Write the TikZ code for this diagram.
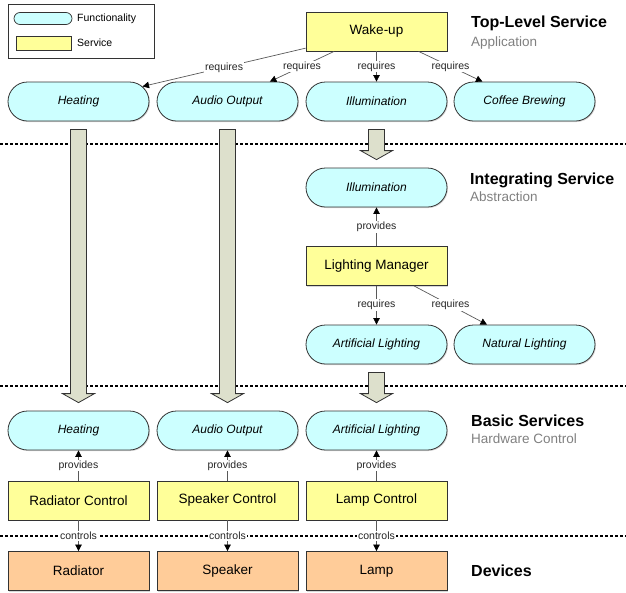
\documentclass[tikz,border=0pt]{standalone}
\usepackage{fontspec}
\setmainfont{Liberation Sans}
\usetikzlibrary{arrows.meta,shapes.misc,shadows,calc}

\definecolor{funcfill}{HTML}{CCFFFF}
\definecolor{servfill}{HTML}{FFFF99}
\definecolor{devfill}{HTML}{FFCC99}
\definecolor{flowfill}{RGB}{221,224,204}
\definecolor{edge}{HTML}{333333}

\tikzset{
  base/.style={draw=edge, line width=0.8pt, minimum width=141pt, minimum height=39pt,
    inner sep=0pt, drop shadow={shadow xshift=1pt, shadow yshift=-1pt, fill=black!30}},
  func/.style={base, rounded rectangle, fill=funcfill, font=\fontsize{12}{14}\selectfont\itshape},
  serv/.style={base, rectangle, fill=servfill, font=\fontsize{13.5}{16}\selectfont},
  dev/.style={base, rectangle, fill=devfill, font=\fontsize{13.5}{16}\selectfont},
  rel/.style={draw=black!65, line width=0.7pt, -{Triangle[length=6.5pt,width=6.5pt,color=black]}},
  rellabel/.style={fill=white, inner sep=1pt, text=black!85, font=\fontsize{10.5}{12}\selectfont},
  layer/.style={draw=black, line width=1.2pt, dash pattern=on 3pt off 2pt},
  bigarrow/.style={draw=edge, line width=0.8pt, fill=flowfill},
  title/.style={anchor=base west, font=\fontsize{16}{19}\selectfont\bfseries, inner sep=0pt},
  subtitle/.style={anchor=base west, font=\fontsize{13.5}{16}\selectfont, text=black!50, inner sep=0pt},
  legtext/.style={anchor=west, font=\fontsize{10.5}{12}\selectfont, inner sep=0pt},
}

% wide block arrow from the bottom of one node to the top of another
\newcommand\flowarrow[2]{%
  \draw[bigarrow] let \p1=(#1.south), \p2=(#2.north) in
    (\x1-8pt,\y1-8pt) -- (\x1+8pt,\y1-8pt) -- (\x1+8pt,\y2+17pt) -- (\x1+16pt,\y2+17pt)
    -- (\x1,\y2+8pt) -- (\x1-16pt,\y2+17pt) -- (\x1-8pt,\y2+17pt) -- cycle;}

\begin{document}
\begin{tikzpicture}[x=1pt,y=-1pt]
\useasboundingbox (0,0) rectangle (626,592);

% layer separators
\draw[layer] (0,144) -- (626,144);
\draw[layer] (0,386) -- (626,386);
\draw[layer] (0,536) -- (626,536);

% legend
\node[draw=edge, line width=0.6pt, minimum width=146pt, minimum height=54pt, inner sep=0pt,
  anchor=north west, fill=white, drop shadow={shadow xshift=1pt, shadow yshift=-1pt, fill=black!30}]
  (legend) at (8,4) {};
\node[rounded rectangle, draw=edge, line width=0.7pt, fill=funcfill, minimum width=58pt,
  minimum height=12pt, inner sep=0pt] (legfunc) at (43,18.5) {};
\node[legtext] (legfunctext) at (77,18.5) {Functionality};
\node[rectangle, draw=edge, line width=0.7pt, fill=servfill, minimum width=55pt,
  minimum height=14pt, inner sep=0pt] (legserv) at (43.5,43) {};
\node[legtext] (legservtext) at (77,43) {Service};

% layer titles
\node[title] (t1) at (471,27) {Top-Level Service};
\node[subtitle] (s1) at (471,46) {Application};
\node[title] (t2) at (470,184) {Integrating Service};
\node[subtitle] (s2) at (470,201) {Abstraction};
\node[title] (t3) at (471,426) {Basic Services};
\node[subtitle] (s3) at (471,443.3) {Hardware Control};
\node[title] (t4) at (471,576) {Devices};

% top-level service
\node[serv] (wake) at (376.5,31.5) {Wake-up};
\node[func] (heat1) at (78.5,101.5) {Heating};
\node[func] (audio1) at (227.5,101.5) {Audio Output};
\node[func] (illum1) at (376.5,101.5) {Illumination};
\node[func] (coffee) at (524.5,101.5) {Coffee Brewing};

% integrating service
\node[func] (illum2) at (376.5,187.5) {Illumination};
\node[serv] (lightmgr) at (376.5,266) {Lighting Manager};
\node[func] (artif1) at (376.5,344.5) {Artificial Lighting};
\node[func] (natural) at (524.5,344.5) {Natural Lighting};

% basic services
\node[func] (heat2) at (78.5,430.5) {Heating};
\node[func] (audio2) at (227.5,430.5) {Audio Output};
\node[func] (artif2) at (376.5,430.5) {Artificial Lighting};
\node[serv] (radctl) at (78.5,500.5) {Radiator Control};
\node[serv] (spkctl) at (227.5,500.5) {Speaker Control};
\node[serv] (lampctl) at (376.5,500.5) {Lamp Control};

% devices
\node[dev] (radiator) at (78.5,571) {Radiator};
\node[dev] (speaker) at (227.5,571) {Speaker};
\node[dev] (lamp) at (376.5,571) {Lamp};

% refinement between layers
\flowarrow{heat1}{heat2}
\flowarrow{audio1}{audio2}
\flowarrow{illum1}{illum2}
\flowarrow{artif1}{artif2}

% relations
\draw[rel] (wake) -- node[rellabel]{requires} (heat1);
\draw[rel] (wake) -- node[rellabel]{requires} (audio1);
\draw[rel] (wake) -- node[rellabel]{requires} (illum1);
\draw[rel] (wake) -- node[rellabel]{requires} (coffee);

\draw[rel] (lightmgr) -- node[rellabel]{provides} (illum2);
\draw[rel] (lightmgr) -- node[rellabel]{requires} (artif1);
\draw[rel] (lightmgr) -- node[rellabel]{requires} (natural);

\draw[rel] (radctl) -- node[rellabel]{provides} (heat2);
\draw[rel] (spkctl) -- node[rellabel]{provides} (audio2);
\draw[rel] (lampctl) -- node[rellabel]{provides} (artif2);

\draw[rel] (radctl) -- node[rellabel]{controls} (radiator);
\draw[rel] (spkctl) -- node[rellabel]{controls} (speaker);
\draw[rel] (lampctl) -- node[rellabel]{controls} (lamp);
\end{tikzpicture}
\end{document}
